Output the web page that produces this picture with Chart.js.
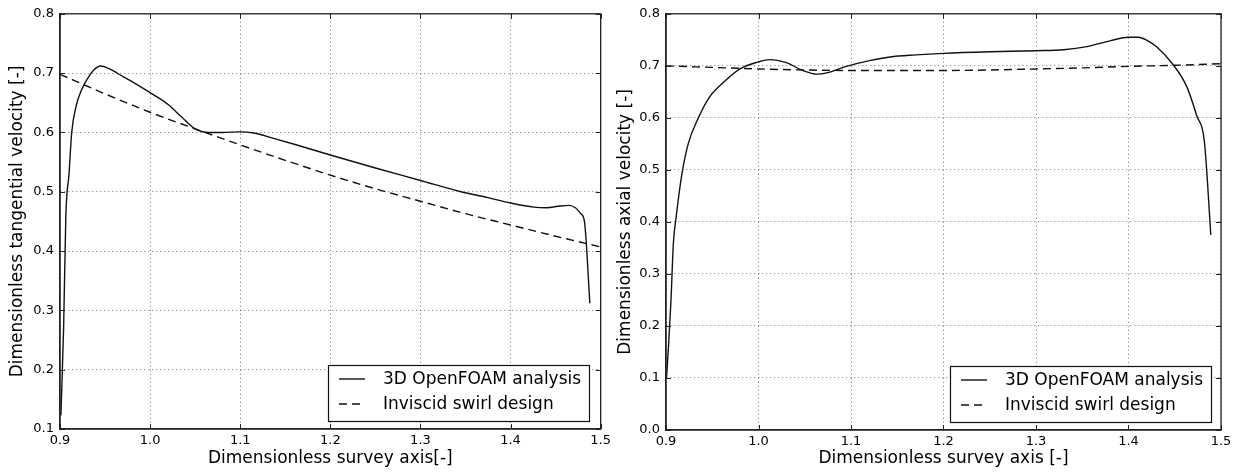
<!DOCTYPE html>
<html><head><meta charset="utf-8">
<script src="https://cdn.jsdelivr.net/npm/chart.js@4/dist/chart.umd.min.js"></script>
<style>
html,body{margin:0;padding:0;background:#fff;}
#wrap{position:relative;width:1241px;height:473px;overflow:hidden;}
canvas{position:absolute;top:0;}
</style></head><body>
<div id="wrap">
<canvas id="c1" width="615" height="473" style="left:0"></canvas>
<canvas id="c2" width="626" height="473" style="left:615px"></canvas>
</div>
<script>
// ---- data ----
const seriesNames = ['3D OpenFOAM analysis', 'Inviscid swirl design'];

// Left: tangential velocity
const tangCfdX = [0.901,0.904,0.9065,0.910,0.913,0.918,0.924,0.931,0.938,0.945,0.955,0.970,0.985,1.000,1.020,1.035,1.050,1.065,1.080,1.100,1.115,1.137,1.160,1.200,1.250,1.300,1.345,1.375,1.400,1.426,1.440,1.455,1.465,1.472,1.478,1.482,1.488];
const tangCfdY = [0.123,0.270,0.460,0.530,0.600,0.645,0.672,0.692,0.706,0.712,0.707,0.694,0.681,0.667,0.647,0.626,0.606,0.600,0.600,0.601,0.599,0.590,0.580,0.562,0.540,0.519,0.500,0.490,0.481,0.474,0.473,0.476,0.477,0.473,0.463,0.450,0.312];
const tangDesX = [0.90,0.95,1.00,1.05,1.10,1.15,1.20,1.25,1.30,1.35,1.40,1.45,1.50];
const tangDesY = [0.698,0.665,0.634,0.606,0.579,0.553,0.528,0.505,0.484,0.463,0.444,0.425,0.407];

// Right: axial velocity
const axCfdX = [0.9005,0.903,0.9054,0.908,0.911,0.917,0.924,0.935,0.947,0.962,0.980,0.999,1.012,1.030,1.048,1.063,1.075,1.095,1.120,1.142,1.170,1.200,1.250,1.300,1.330,1.355,1.380,1.400,1.411,1.420,1.430,1.447,1.463,1.474,1.482,1.489];
const axCfdY = [0.098,0.170,0.250,0.360,0.410,0.490,0.550,0.600,0.640,0.668,0.694,0.707,0.712,0.706,0.691,0.684,0.687,0.699,0.710,0.717,0.721,0.724,0.727,0.729,0.731,0.737,0.748,0.755,0.755,0.749,0.737,0.705,0.660,0.603,0.555,0.375];
const axDesX = [0.90,0.95,1.00,1.05,1.10,1.15,1.20,1.25,1.30,1.35,1.40,1.45,1.50];
const axDesY = [0.700,0.697,0.694,0.692,0.691,0.691,0.691,0.692,0.694,0.696,0.699,0.701,0.704];

const xTicks = [0.9,1.0,1.1,1.2,1.3,1.4,1.5];
const leftYTicks = [0.1,0.2,0.3,0.4,0.5,0.6,0.7,0.8];
const rightYTicks = [0.0,0.1,0.2,0.3,0.4,0.5,0.6,0.7,0.8];

const pts = (xs, ys) => xs.map((x, i) => ({x, y: ys[i]}));

Chart.defaults.font.family = '"DejaVu Sans", "Liberation Sans", sans-serif';
Chart.defaults.color = '#000';

const framePlugin = {
  id: 'frame',
  afterDraw(chart) {
    const ctx = chart.ctx, ca = chart.chartArea;
    const xs = chart.scales.x, ys = chart.scales.y;
    ctx.save();
    ctx.strokeStyle = '#222';
    ctx.lineWidth = 1.3;
    ctx.strokeRect(ca.left, ca.top, ca.right - ca.left, ca.bottom - ca.top);
    ctx.lineWidth = 1;
    ctx.beginPath();
    xs.ticks.forEach(t => {
      const p = Math.round(xs.getPixelForValue(t.value)) + 0.5;
      ctx.moveTo(p, ca.bottom); ctx.lineTo(p, ca.bottom - 5);
      ctx.moveTo(p, ca.top); ctx.lineTo(p, ca.top + 5);
    });
    ys.ticks.forEach(t => {
      const p = Math.round(ys.getPixelForValue(t.value)) + 0.5;
      ctx.moveTo(ca.left, p); ctx.lineTo(ca.left + 5, p);
      ctx.moveTo(ca.right, p); ctx.lineTo(ca.right - 5, p);
    });
    ctx.stroke();
    ctx.restore();
  }
};

const boxLegend = {
  id: 'boxLegend',
  afterDraw(chart, args, opts) {
    const ctx = chart.ctx, ca = chart.chartArea;
    ctx.save();
    ctx.font = '17px "DejaVu Sans"';
    const items = chart.data.datasets;
    const tw = Math.max(...items.map(d => ctx.measureText(d.label).width));
    const w = Math.round(55 + tw + 8), h = 56;
    const x0 = Math.round(ca.right - opts.right - w), y0 = Math.round(ca.bottom - opts.bottom - h);
    ctx.fillStyle = '#fff';
    ctx.fillRect(x0, y0, w, h);
    ctx.strokeStyle = '#111';
    ctx.lineWidth = 1.2;
    ctx.strokeRect(x0 + 0.5, y0 + 0.5, w, h);
    items.forEach((d, i) => {
      const cy = y0 + 14 + i * 25;
      ctx.beginPath();
      ctx.setLineDash(d.borderDash || []);
      ctx.strokeStyle = d.borderColor;
      ctx.lineWidth = d.borderWidth;
      ctx.moveTo(x0 + 11, cy); ctx.lineTo(x0 + 37, cy);
      ctx.stroke();
      ctx.setLineDash([]);
      ctx.fillStyle = '#000';
      ctx.textBaseline = 'middle';
      ctx.fillText(d.label, x0 + 55, cy + 1);
    });
    ctx.restore();
  }
};

function makeChart(id, cfd, des, yMin, yMax, yTicks, yTitle, xTitle, geo) {
  const gridCommon = {color: 'rgba(0,0,0,0.55)', lineWidth: 1, borderDash: [1, 3], drawTicks: false};
  return new Chart(document.getElementById(id), {
    type: 'line',
    data: {
      datasets: [
        {label: seriesNames[0], data: cfd, borderColor: '#111', borderWidth: 1.4, pointRadius: 0, cubicInterpolationMode: 'monotone', fill: false},
        {label: seriesNames[1], data: des, borderColor: '#111', borderWidth: 1.4, borderDash: [8, 5], pointRadius: 0, cubicInterpolationMode: 'monotone', fill: false}
      ]
    },
    options: {
      responsive: false,
      animation: false,
      events: [],
      layout: {padding: {top: geo.top, right: geo.right, left: 0, bottom: 0}},
      plugins: {legend: {display: false}, tooltip: {enabled: false}, boxLegend: {right: geo.legR, bottom: 8}},
      scales: {
        x: {
          type: 'linear', min: xTicks[0], max: xTicks[xTicks.length - 1],
          afterBuildTicks: s => { s.ticks = xTicks.map(v => ({value: v})); },
          ticks: {callback: v => v.toFixed(1), font: {size: 13}, color: '#000', padding: 4, maxRotation: 0, autoSkip: false},
          grid: gridCommon,
          border: {display: true, color: '#222', width: 1.3, dash: [1, 3]},
          title: {display: true, text: xTitle, font: {size: 17}, color: '#000', padding: {top: 0, bottom: 4}},
          afterFit: s => { s.height = geo.xh; }
        },
        y: {
          type: 'linear', min: yMin, max: yMax,
          afterBuildTicks: s => { s.ticks = yTicks.map(v => ({value: v})); },
          ticks: {callback: v => v.toFixed(1), font: {size: 13}, color: '#000', padding: 6, autoSkip: false},
          grid: gridCommon,
          border: {display: true, color: '#222', width: 1.3, dash: [1, 3]},
          title: {display: true, text: yTitle, font: {size: 17}, color: '#000', padding: {top: geo.ytp, bottom: 0}},
          afterFit: s => { s.width = geo.yw; }
        }
      }
    },
    plugins: [framePlugin, boxLegend]
  });
}

makeChart('c1', pts(tangCfdX, tangCfdY), pts(tangDesX, tangDesY), 0.1, 0.8, leftYTicks,
  'Dimensionless tangential velocity [-]', 'Dimensionless survey axis[-]',
  {top: 13, right: 11, xh: 44, yw: 60, ytp: 7, legR: 12});
makeChart('c2', pts(axCfdX, axCfdY), pts(axDesX, axDesY), 0.0, 0.8, rightYTicks,
  'Dimensionless axial velocity [-]', 'Dimensionless survey axis [-]',
  {top: 10, right: 20, xh: 43, yw: 51, ytp: 0, legR: 10});
</script>
</body></html>
